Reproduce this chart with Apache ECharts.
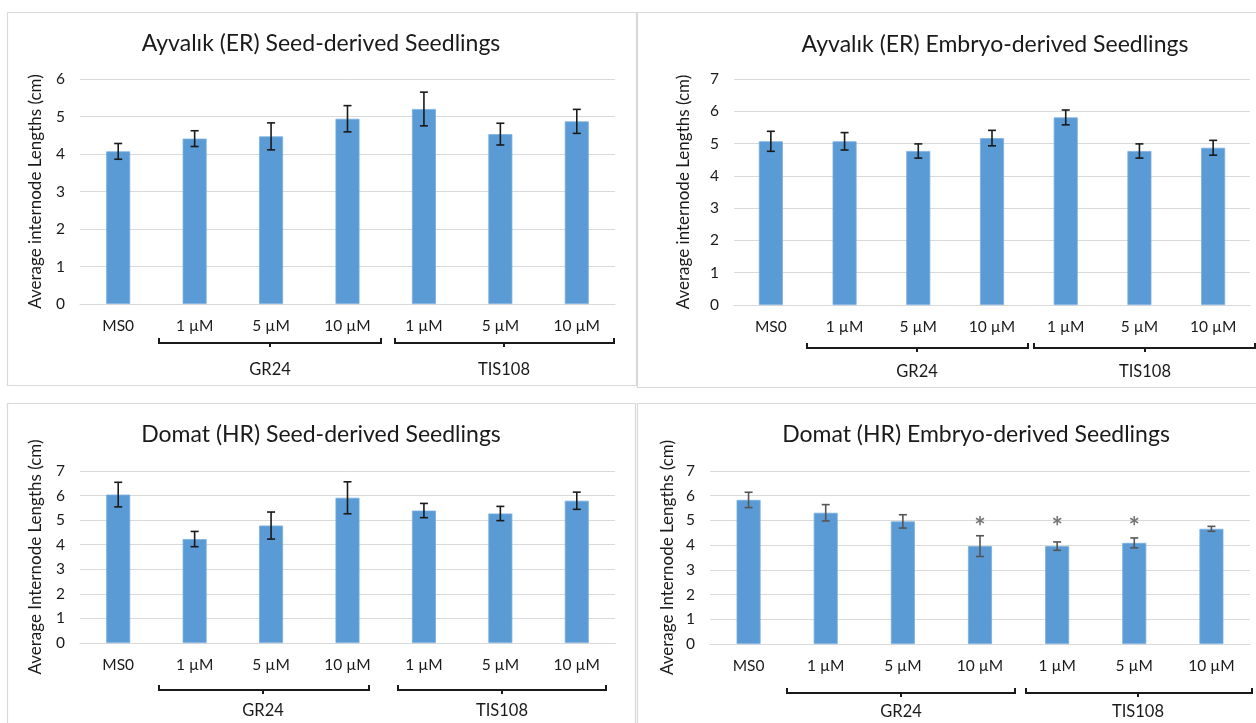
<!DOCTYPE html>
<html>
<head>
<meta charset="utf-8">
<title>Average internode lengths</title>
<script src="https://cdn.jsdelivr.net/npm/echarts@6/dist/echarts.min.js"></script>
<style>
  html, body { margin: 0; padding: 0; background: #ffffff; }
  #chart { width: 1256px; height: 723px; }
</style>
</head>
<body>
<div id="chart"></div>
<script>
// Treatments on the x axis (MS0 control, then GR24 and TIS108 doses)
const categories = ['MS0', '1 µM', '5 µM', '10 µM', '1 µM', '5 µM', '10 µM'];
const groupNames = ['GR24', 'TIS108'];

// Ayvalık (ER) seed-derived seedlings: mean internode length and error (cm)
const ayvalikSeedMean = [4.07, 4.41, 4.47, 4.94, 5.20, 4.53, 4.87];
const ayvalikSeedErr  = [0.21, 0.21, 0.36, 0.35, 0.45, 0.29, 0.32];

// Ayvalık (ER) embryo-derived seedlings
const ayvalikEmbryoMean = [5.07, 5.07, 4.77, 5.17, 5.81, 4.77, 4.87];
const ayvalikEmbryoErr  = [0.31, 0.27, 0.22, 0.24, 0.23, 0.22, 0.23];

// Domat (HR) seed-derived seedlings
const domatSeedMean = [6.04, 4.23, 4.78, 5.91, 5.39, 5.27, 5.79];
const domatSeedErr  = [0.50, 0.31, 0.55, 0.65, 0.29, 0.29, 0.35];

// Domat (HR) embryo-derived seedlings, with significance marks
const domatEmbryoMean = [5.83, 5.31, 4.96, 3.96, 3.96, 4.09, 4.66];
const domatEmbryoErr  = [0.31, 0.33, 0.27, 0.42, 0.17, 0.20, 0.10];
const domatEmbryoSig  = ['', '', '', '*', '*', '*', ''];

const FONT = 'Lato, "Open Sans", sans-serif';
const BAR_COLOR = '#5b9bd5';
const GRID_COLOR = '#d9d9d9';
const TEXT_COLOR = '#1a1a1a';

// Panel layout: frame, plot grid, title, axis name and bracket positions
const panels = [
  {
    title: 'Ayvalık (ER) Seed-derived Seedlings', yName: 'Average internode Lengths (cm)',
    mean: ayvalikSeedMean, err: ayvalikSeedErr, yMax: 6, errColor: '#1a1a1a',
    frame: [7, 12, 629, 373], grid: { left: 80, top: 79, width: 535, height: 225 },
    titleXY: [321, 44], nameGap: 36, labelMargin: 14,
    bracketY: 343, brackets: [[159, 381, 270], [395, 614, 504]], groupY: 370
  },
  {
    title: 'Ayvalık (ER) Embryo-derived Seedlings', yName: 'Average internode Lengths (cm)',
    mean: ayvalikEmbryoMean, err: ayvalikEmbryoErr, yMax: 7, errColor: '#1a1a1a',
    frame: [637, 12, 640, 375], grid: { left: 734, top: 79, width: 516, height: 226 },
    titleXY: [995, 45], nameGap: 42, labelMargin: 14,
    bracketY: 348, brackets: [[807, 1028, 917], [1034, 1255, 1145]], groupY: 372
  },
  {
    title: 'Domat (HR) Seed-derived Seedlings', yName: 'Average Internode Lengths (cm)',
    mean: domatSeedMean, err: domatSeedErr, yMax: 7, errColor: '#1a1a1a',
    frame: [7, 403, 628, 340], grid: { left: 80, top: 471, width: 535, height: 172 },
    titleXY: [321, 435], nameGap: 36, labelMargin: 14,
    bracketY: 690, brackets: [[159, 369, 263], [398, 606, 502]], groupY: 711
  },
  {
    title: 'Domat (HR) Embryo-derived Seedlings', yName: 'Average Internode Lengths (cm)',
    mean: domatEmbryoMean, err: domatEmbryoErr, yMax: 7, errColor: '#555555',
    sig: domatEmbryoSig,
    frame: [637, 403, 640, 340], grid: { left: 710, top: 471, width: 540, height: 173 },
    titleXY: [976, 435], nameGap: 34, labelMargin: 14,
    bracketY: 693, brackets: [[787, 1015, 901], [1026, 1252, 1138]], groupY: 712
  }
];

function errorBarRenderer(color) {
  return function (params, api) {
    const idx = api.value(0);
    const m = api.value(1);
    const e = api.value(2);
    const top = api.coord([idx, m + e]);
    const bot = api.coord([idx, m - e]);
    const hw = 4;
    const style = { stroke: color, lineWidth: 1.6 };
    return {
      type: 'group',
      children: [
        { type: 'line', shape: { x1: top[0], y1: top[1], x2: bot[0], y2: bot[1] }, style },
        { type: 'line', shape: { x1: top[0] - hw, y1: top[1], x2: top[0] + hw, y2: top[1] }, style },
        { type: 'line', shape: { x1: bot[0] - hw, y1: bot[1], x2: bot[0] + hw, y2: bot[1] }, style }
      ]
    };
  };
}

const grids = [], xAxes = [], yAxes = [], series = [], graphics = [];

panels.forEach((p, i) => {
  // chart area frame
  graphics.push({
    type: 'rect', z: -10, silent: true,
    shape: { x: p.frame[0] + 0.5, y: p.frame[1] + 0.5, width: p.frame[2], height: p.frame[3] },
    style: { fill: '#ffffff', stroke: GRID_COLOR, lineWidth: 1.2 }
  });
  // chart title
  graphics.push({
    type: 'text', silent: true,
    style: {
      text: p.title, x: p.titleXY[0], y: p.titleXY[1],
      textAlign: 'center', textVerticalAlign: 'middle',
      fontFamily: FONT, fontSize: 23, fill: TEXT_COLOR
    }
  });
  // group brackets beneath the dose labels
  p.brackets.forEach((b, k) => {
    const y = p.bracketY;
    graphics.push({
      type: 'polyline', silent: true,
      shape: { points: [[b[0], y - 5], [b[0], y], [b[1], y], [b[1], y - 5]] },
      style: { stroke: '#1a1a1a', lineWidth: 2, fill: null }
    });
    graphics.push({
      type: 'line', silent: true,
      shape: { x1: b[2], y1: y, x2: b[2], y2: y + 4 },
      style: { stroke: '#1a1a1a', lineWidth: 2 }
    });
    graphics.push({
      type: 'text', silent: true,
      style: {
        text: groupNames[k], x: b[2], y: p.groupY,
        textAlign: 'center', textVerticalAlign: 'middle',
        fontFamily: FONT, fontSize: 16.5, fill: TEXT_COLOR
      }
    });
  });

  grids.push(Object.assign({ containLabel: false }, p.grid));

  xAxes.push({
    type: 'category', gridIndex: i, data: categories,
    axisTick: { show: false },
    axisLine: { lineStyle: { color: GRID_COLOR, width: 1 } },
    axisLabel: { color: TEXT_COLOR, fontFamily: FONT, fontSize: 15.5, margin: p.labelMargin, interval: 0 }
  });

  yAxes.push({
    type: 'value', gridIndex: i, min: 0, max: p.yMax, interval: 1,
    name: p.yName, nameLocation: 'middle', nameGap: p.nameGap, nameRotate: 90,
    nameTextStyle: { color: TEXT_COLOR, fontFamily: FONT, fontSize: 17 },
    axisLine: { show: false }, axisTick: { show: false },
    axisLabel: { color: TEXT_COLOR, fontFamily: FONT, fontSize: 15.5, margin: 15 },
    splitLine: { lineStyle: { color: GRID_COLOR, width: 1 } }
  });

  series.push({
    type: 'bar', xAxisIndex: i, yAxisIndex: i,
    data: p.mean, barWidth: 24,
    itemStyle: { color: BAR_COLOR, borderColor: '#7aaee0', borderWidth: 0.8 },
    emphasis: { disabled: true }, z: 2
  });

  series.push({
    type: 'custom', xAxisIndex: i, yAxisIndex: i, z: 5,
    renderItem: errorBarRenderer(p.errColor),
    encode: { x: 0, y: [1] },
    data: p.mean.map((m, j) => [j, m, p.err[j]]),
    silent: true
  });

  if (p.sig) {
    series.push({
      type: 'scatter', xAxisIndex: i, yAxisIndex: i, z: 6,
      symbolSize: 0, silent: true,
      data: p.sig.map((s, j) => [j, 4.72, s]).filter(d => d[2]),
      label: {
        show: true, position: 'inside', formatter: d => d.value[2],
        color: '#555555', fontFamily: FONT, fontSize: 27, fontWeight: 'bold'
      }
    });
  }
});

const chart = echarts.init(document.getElementById('chart'), null, { renderer: 'canvas' });
chart.setOption({
  backgroundColor: '#ffffff',
  animation: false,
  grid: grids,
  xAxis: xAxes,
  yAxis: yAxes,
  series: series,
  graphic: graphics
});
</script>
</body>
</html>
